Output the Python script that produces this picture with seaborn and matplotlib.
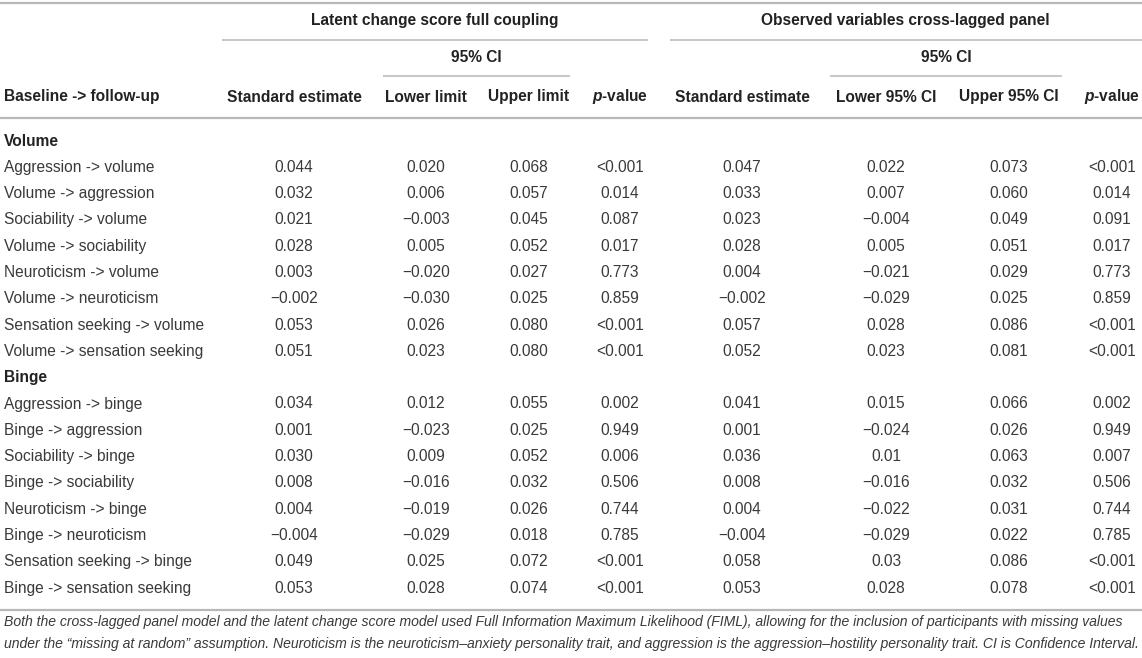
import matplotlib
matplotlib.use("Agg")
import matplotlib.pyplot as plt
import numpy as np
import pandas as pd
import seaborn as sns

# table contents
volume_rows = ["Aggression -> volume", "Volume -> aggression", "Sociability -> volume",
               "Volume -> sociability", "Neuroticism -> volume", "Volume -> neuroticism",
               "Sensation seeking -> volume", "Volume -> sensation seeking"]
binge_rows = ["Aggression -> binge", "Binge -> aggression", "Sociability -> binge",
              "Binge -> sociability", "Neuroticism -> binge", "Binge -> neuroticism",
              "Sensation seeking -> binge", "Binge -> sensation seeking"]

# latent change score full coupling
lcs_est = ["0.044", "0.032", "0.021", "0.028", "0.003", "\u22120.002", "0.053", "0.051",
           "0.034", "0.001", "0.030", "0.008", "0.004", "\u22120.004", "0.049", "0.053"]
lcs_low = ["0.020", "0.006", "\u22120.003", "0.005", "\u22120.020", "\u22120.030", "0.026", "0.023",
           "0.012", "\u22120.023", "0.009", "\u22120.016", "\u22120.019", "\u22120.029", "0.025", "0.028"]
lcs_up = ["0.068", "0.057", "0.045", "0.052", "0.027", "0.025", "0.080", "0.080",
          "0.055", "0.025", "0.052", "0.032", "0.026", "0.018", "0.072", "0.074"]
lcs_p = ["<0.001", "0.014", "0.087", "0.017", "0.773", "0.859", "<0.001", "<0.001",
         "0.002", "0.949", "0.006", "0.506", "0.744", "0.785", "<0.001", "<0.001"]

# observed variables cross-lagged panel
clp_est = ["0.047", "0.033", "0.023", "0.028", "0.004", "\u22120.002", "0.057", "0.052",
           "0.041", "0.001", "0.036", "0.008", "0.004", "\u22120.004", "0.058", "0.053"]
clp_low = ["0.022", "0.007", "\u22120.004", "0.005", "\u22120.021", "\u22120.029", "0.028", "0.023",
           "0.015", "\u22120.024", "0.01", "\u22120.016", "\u22120.022", "\u22120.029", "0.03", "0.028"]
clp_up = ["0.073", "0.060", "0.049", "0.051", "0.029", "0.025", "0.086", "0.081",
          "0.066", "0.026", "0.063", "0.032", "0.031", "0.022", "0.086", "0.078"]
clp_p = ["<0.001", "0.014", "0.091", "0.017", "0.773", "0.859", "<0.001", "<0.001",
         "0.002", "0.949", "0.007", "0.506", "0.744", "0.785", "<0.001", "<0.001"]

groups = ["Latent change score full coupling", "Observed variables cross-lagged panel"]
col_heads = ["Standard estimate", "Lower limit", "Upper limit", "p-value",
             "Standard estimate", "Lower 95% CI", "Upper 95% CI", "p-value"]
footnote = ["Both the cross-lagged panel model and the latent change score model used Full Information "
            "Maximum Likelihood (FIML), allowing for the inclusion of participants with missing values",
            "under the \u201cmissing at random\u201d assumption. Neuroticism is the neuroticism\u2013anxiety "
            "personality trait, and aggression is the aggression\u2013hostility personality trait. "
            "CI is Confidence Interval."]

df = pd.DataFrame({"row": volume_rows + binge_rows,
                   "lcs_est": lcs_est, "lcs_low": lcs_low, "lcs_up": lcs_up, "lcs_p": lcs_p,
                   "clp_est": clp_est, "clp_low": clp_low, "clp_up": clp_up, "clp_p": clp_p})
value_cols = ["lcs_est", "lcs_low", "lcs_up", "lcs_p", "clp_est", "clp_low", "clp_up", "clp_p"]

sns.set_theme(style="white")
plt.rcParams["font.family"] = ["Liberation Sans", "DejaVu Sans"]
# bold italic "p" in the p-value headers
plt.rcParams["mathtext.fontset"] = "custom"
plt.rcParams["mathtext.it"] = "Liberation Sans:italic:bold"

# layout (pixel-like coordinates)
col_x = [294, 426, 529, 620, 742, 886, 1009, 1112]
step = 26.3
y_vol = 141
rule_c = "#b8b8b8"
txt_c = "#3a3a3a"
fs = 11.2

fig = plt.figure(figsize=(11.42, 6.58), dpi=100)
ax = fig.add_axes([0, 0, 1, 1])
ax.set_xlim(0, 1142)
ax.set_ylim(658, 0)
ax.axis("off")

# rules
ax.hlines(2.5, 0, 1142, color=rule_c, lw=1.6)
ax.hlines([39.5, 39.5], [222, 670], [648, 1142], color=rule_c, lw=1.1)
ax.hlines([76, 76], [383, 830], [570, 1062], color=rule_c, lw=1.1)
ax.hlines(117.5, 0, 1142, color=rule_c, lw=1.6)
ax.hlines(610, 0, 1142, color=rule_c, lw=1.6)

# headers
hd = dict(ha="center", va="center", fontsize=fs, fontweight="bold", color="#222")
ax.text(435, 20, groups[0], **hd)
ax.text(905, 20, groups[1], **hd)
ax.text(476, 58, "95% CI", **hd)
ax.text(946, 58, "95% CI", **hd)
ax.text(4, 97, "Baseline -> follow-up", ha="left", va="center", fontsize=fs,
        fontweight="bold", color="#222")
for x, h in zip(col_x, col_heads):
    if h == "p-value":
        ax.text(x, 97, r"$\it{p}$" + "-value", **hd)
    else:
        ax.text(x, 97, h, **hd)

# body
section_y = {"Volume": y_vol, "Binge": y_vol + 9 * step}
for name, y in section_y.items():
    ax.text(4, y, name, ha="left", va="center", fontsize=fs, fontweight="bold", color="#222")

for i, r in df.iterrows():
    y = y_vol + step * (i + 1 + (1 if i >= len(volume_rows) else 0))
    ax.text(4, y, r["row"], ha="left", va="center", fontsize=fs, color=txt_c)
    for x, c in zip(col_x, value_cols):
        ax.text(x, y, r[c], ha="center", va="center", fontsize=fs, color=txt_c)

# footnote
for k, line in enumerate(footnote):
    ax.text(4, 622 + 22 * k, line, ha="left", va="center", fontsize=10.1,
            style="italic", color=txt_c)

fig.savefig("out.png", dpi=100)
